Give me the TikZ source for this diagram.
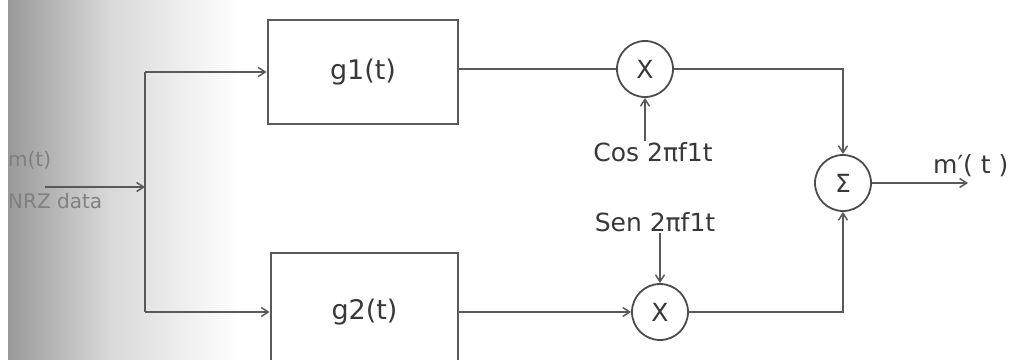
\documentclass[tikz,border=0pt]{standalone}
\usepackage{fontspec}
\setmainfont{DejaVu Sans}
\usetikzlibrary{arrows.meta}
\begin{document}
\begin{tikzpicture}[x=1pt,y=-1pt,
  wire/.style={draw=black!65, line width=1.5pt},
  arr/.style={wire,-{Straight Barb[length=7pt,width=9pt,line width=1.5pt]}},
  blk/.style={draw=black!65, line width=2.8pt, minimum width=190pt, minimum height=104pt, inner sep=0pt, font=\fontsize{27}{30}\selectfont, text=black!78},
  mix/.style={circle, draw=black!70, line width=1.8pt, minimum size=56pt, inner sep=0pt, font=\fontsize{25}{27}\selectfont, text=black!78},
  lbl/.style={font=\fontsize{25}{28}\selectfont, text=black!78, inner sep=1pt},
  faint/.style={font=\fontsize{20}{22}\selectfont, text=black!50, inner sep=0pt}
]
\useasboundingbox (0,0) rectangle (1014,359);
\clip (0,0) rectangle (1014,359);
\shade[left color=black!40, right color=black!15] (8,0) rectangle (110,359);
\shade[left color=black!15, right color=white] (110,0) rectangle (240,359);
\node[faint, anchor=west] (src) at (8,160) {m(t)};
\node[faint, anchor=west] (nrz) at (8,201) {NRZ data};
\coordinate (in) at (45,187);
\coordinate (j) at (145,187);
\coordinate (jt) at (145,72);
\coordinate (jb) at (145,312);
\node[blk] (g1) at (363,72) {g1(t)};
\node[blk, minimum width=187pt, minimum height=118pt] (g2) at (364.5,312) {g2(t)};
\node[mix] (m1) at (645,69) {X};
\node[mix] (m2) at (660,312) {X};
\node[mix] (sum) at (843,183) {Σ};
\node[lbl] (cos) at (653,152) {Cos 2πf1t};
\node[lbl] (sen) at (655,222) {Sen 2πf1t};
\coordinate (out) at (968,183);
\node[lbl, anchor=south west] (mo) at (932,178) {m′( t )};
\draw[arr] (in) -- (j);
\draw[wire] (jt) -- (jb);
\draw[arr] (jt) -- (g1.west);
\draw[arr] (jb) -- (g2.west);
\draw[wire] (g1.east |- m1) -- (m1.west);
\draw[arr] (m1 |- cos.north) -- (m1.south);
\draw[arr] (m2 |- sen.south) -- (m2.north);
\draw[arr] (g2.east |- m2) -- (m2.west);
\draw[arr] (m1.east) -| (sum.north);
\draw[arr] (m2.east) -| (sum.south);
\draw[arr] (sum.east) -- (out);
\end{tikzpicture}
\end{document}
